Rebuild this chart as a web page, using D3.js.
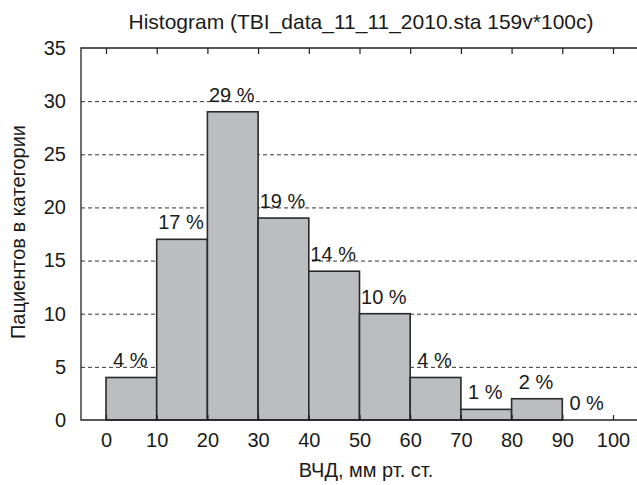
<!DOCTYPE html>
<html>
<head>
<meta charset="utf-8">
<script src="https://cdn.jsdelivr.net/npm/d3@7"></script>
<style>
  body { margin: 0; background: #fff; }
  text { font-family: "Liberation Sans", Arial, sans-serif; fill: #1a1a1a; }
</style>
</head>
<body>
<script>
//Chart size
var w = 637;
var h = 485;

//Data
var binStarts = [0, 10, 20, 30, 40, 50, 60, 70, 80, 90];
var counts = [4, 17, 29, 19, 14, 10, 4, 1, 2, 0];
var percentLabels = ["4 %", "17 %", "29 %", "19 %", "14 %", "10 %", "4 %", "1 %", "2 %", "0 %"];
var xTicks = [0, 10, 20, 30, 40, 50, 60, 70, 80, 90, 100];
var yTicks = [0, 5, 10, 15, 20, 25, 30, 35];
var binWidth = 10;

var frameLeft = 81;
var frameTop = 48;
var frameBottom = 420;
var frameRight = 640;
var fontSize = 20;

//Scales
var xScale = d3.scaleLinear().domain([0, 100]).range([106, 613]);
var yScale = d3.scaleLinear().domain([0, 35]).range([frameBottom, frameTop]);

var svg = d3.select("body").append("svg").attr("width", w).attr("height", h);

//Dashed gridlines
svg.append("g")
  .selectAll("line")
  .data(yTicks.filter(function (d) { return d > 0 && d < 35; }))
  .enter()
  .append("line")
  .attr("x1", frameLeft)
  .attr("x2", frameRight)
  .attr("y1", function (d) { return yScale(d) + 0.5; })
  .attr("y2", function (d) { return yScale(d) + 0.5; })
  .attr("stroke", "#333")
  .attr("stroke-width", 1)
  .attr("stroke-dasharray", "4,3");

//Bars
svg.append("g")
  .selectAll("rect")
  .data(binStarts)
  .enter()
  .append("rect")
  .attr("x", function (d) { return xScale(d); })
  .attr("y", function (d, i) { return yScale(counts[i]); })
  .attr("width", function (d) { return xScale(d + binWidth) - xScale(d); })
  .attr("height", function (d, i) { return yScale(0) - yScale(counts[i]); })
  .attr("fill", "#bcbdc1")
  .attr("stroke", "#2a2a2a")
  .attr("stroke-width", 1.6);

//Percent labels
svg.append("g")
  .selectAll("text")
  .data(binStarts)
  .enter()
  .append("text")
  .attr("x", function (d) { return xScale(d + binWidth / 2) - 1; })
  .attr("y", function (d, i) { return yScale(counts[i]) - 10; })
  .attr("text-anchor", "middle")
  .attr("font-size", fontSize)
  .text(function (d, i) { return percentLabels[i]; });

//Bottom axis (ticks pointing inside)
var xAxis = d3.axisBottom(xScale).tickValues(xTicks).tickSizeInner(-5).tickSizeOuter(0).tickPadding(13);
var gx = svg.append("g")
  .attr("transform", "translate(0," + frameBottom + ")")
  .call(xAxis);
gx.select(".domain").remove();
gx.selectAll(".tick line").attr("stroke", "#222").attr("stroke-width", 1.2);
gx.selectAll(".tick text").attr("font-size", fontSize).attr("font-family", "Liberation Sans, Arial, sans-serif").attr("fill", "#1a1a1a");

//Top axis (ticks pointing inside, no labels)
var xTop = d3.axisTop(xScale).tickValues(xTicks).tickSizeInner(-6).tickSizeOuter(0).tickFormat("");
var gt = svg.append("g")
  .attr("transform", "translate(0," + frameTop + ")")
  .call(xTop);
gt.select(".domain").remove();
gt.selectAll(".tick line").attr("stroke", "#222").attr("stroke-width", 1.2);

//Left axis labels
var yAxis = d3.axisLeft(yScale).tickValues(yTicks).tickSize(0).tickPadding(15);
var gy = svg.append("g")
  .attr("transform", "translate(" + frameLeft + ",0)")
  .call(yAxis);
gy.select(".domain").remove();
gy.selectAll(".tick text").attr("font-size", fontSize).attr("font-family", "Liberation Sans, Arial, sans-serif").attr("fill", "#1a1a1a");

//Frame
svg.append("path")
  .attr("d", "M" + frameRight + "," + frameTop + "H" + frameLeft + "V" + frameBottom + "H" + frameRight)
  .attr("fill", "none")
  .attr("stroke", "#222")
  .attr("stroke-width", 1.3);

//Titles
svg.append("text")
  .attr("x", 361)
  .attr("y", 29)
  .attr("text-anchor", "middle")
  .attr("font-size", 21)
  .text("Histogram (TBI_data_11_11_2010.sta 159v*100c)");

svg.append("text")
  .attr("x", 366)
  .attr("y", 477)
  .attr("text-anchor", "middle")
  .attr("font-size", fontSize)
  .text("ВЧД, мм рт. ст.");

svg.append("text")
  .attr("transform", "translate(25,232) rotate(-90)")
  .attr("text-anchor", "middle")
  .attr("font-size", fontSize)
  .text("Пациентов в категории");
</script>
</body>
</html>
